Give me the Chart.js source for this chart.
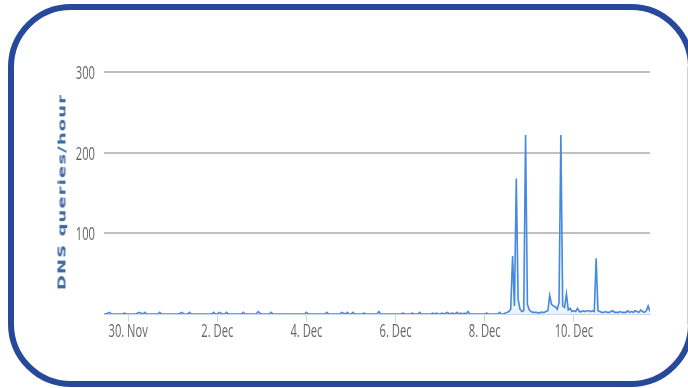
<!DOCTYPE html>
<html><head><meta charset="utf-8">
<script src="https://cdn.jsdelivr.net/npm/chart.js@4.4.1/dist/chart.umd.min.js"></script>
<style>
html,body{margin:0;padding:0;background:#fff;overflow:hidden;width:688px;height:388px}
#frame{position:absolute;left:8px;top:4px;width:686px;height:383px;box-sizing:border-box;border:6px solid #27499b;border-radius:63px;}
#edge{position:absolute;left:687px;top:67px;width:1px;height:257px;background:#d0d0d0}
#wrap{position:absolute;left:0;top:0;width:688px;height:388px}
#ytitle{position:absolute;left:61px;top:192px;transform:translate(-50%,-50%) scaleX(0.62) rotate(-90deg);font:bold 18px 'DejaVu Sans',sans-serif;letter-spacing:1.1px;color:#3d67a5;white-space:nowrap}
</style></head>
<body>
<div id="frame"></div>
<div id="edge"></div>
<div id="wrap"><canvas id="c" width="688" height="388"></canvas></div>
<div id="ytitle">DNS queries/hour</div>
<script>
// hourly DNS query counts, starting 29 Nov 11:00
const hourValues = [
  0,0,1,2,0,0,0,0,0,0,0,1,0,0,0,0,0,0,1,2,1,0,2,0,
  0,0,0,0,0,0,2,0,0,0,0,0,0,0,0,0,0,1,2,0,0,0,2,0,
  0,0,0,0,0,0,0,0,0,0,0,2,0,0,2,1,0,0,2,0,0,0,0,0,
  0,0,0,2,0,0,0,0,0,0,0,3,1,0,0,0,0,0,2,0,0,0,0,0,
  0,0,0,0,0,0,0,0,0,0,0,0,0,2,0,0,0,0,0,0,0,0,0,0,
  2,0,0,0,0,0,0,0,2,1,0,2,0,0,2,0,0,0,0,0,1,0,0,0,
  0,0,0,0,3,0,0,0,0,0,0,0,0,0,0,0,0,1,0,0,0,0,1,0,
  0,0,2,0,0,0,0,0,0,1,0,1,0,0,1,0,1,2,0,1,1,0,2,0,
  1,0,1,0,3,0,0,0,0,0,0,0,0,0,1,0,0,0,0,0,0,2,0,0,
  1,2,3,6,72,10,168,18,6,3,4,222,12,5,3,2,2,2,1,2,2,2,3,4,
  23,12,10,9,6,14,222,10,8,25,5,7,3,4,3,7,3,3,4,3,4,4,3,4,
  3,69,4,3,2,2,3,2,2,3,4,2,2,2,3,2,2,2,4,2,3,2,4,3,
  2,5,3,2,4,10,3
];
const tickHours = [13, 61, 109, 157, 205, 253];
const tickLabels = ['30. Nov', '2. Dec', '4. Dec', '6. Dec', '8. Dec', '10. Dec'];
const yTicks = [100, 200, 300];

// tick labels drawn horizontally squeezed, like the reference
const squeezedLabels = {
  id: 'squeezedLabels',
  afterDraw(chart) {
    const ctx = chart.ctx, xs = chart.scales.x, ys = chart.scales.y;
    ctx.save();
    ctx.fillStyle = '#666';
    ctx.font = "18px 'Open Sans', sans-serif";
    ctx.textBaseline = 'middle';
    tickHours.forEach((h, i) => {
      ctx.save();
      ctx.translate(xs.getPixelForValue(h), xs.top + 18);
      ctx.scale(0.62, 1);
      ctx.textAlign = 'center';
      ctx.fillText(tickLabels[i], 0, 0);
      ctx.restore();
    });
    yTicks.forEach(v => {
      ctx.save();
      ctx.translate(ys.right - 9, ys.getPixelForValue(v) + 2);
      ctx.scale(0.62, 1);
      ctx.textAlign = 'right';
      ctx.fillText(String(v), 0, 0);
      ctx.restore();
    });
    ctx.restore();
  }
};

new Chart(document.getElementById('c'), {
  type: 'line',
  data: {
    datasets: [{
      data: hourValues.map((v, i) => ({x: i, y: v})),
      borderColor: '#4589e0',
      borderWidth: 1.6,
      backgroundColor: 'rgba(124,181,236,0.15)',
      fill: 'origin',
      pointRadius: 0,
      tension: 0
    }]
  },
  plugins: [squeezedLabels],
  options: {
    responsive: false,
    devicePixelRatio: 1,
    animation: false,
    layout: {padding: {left: 0, right: 38, top: 72, bottom: 0}},
    plugins: {legend: {display: false}, tooltip: {enabled: false}},
    scales: {
      x: {
        type: 'linear', min: 0, max: 294,
        afterBuildTicks: s => { s.ticks = tickHours.map(v => ({value: v})); },
        afterFit: s => { s.height = 74; },
        ticks: {display: false},
        grid: {drawOnChartArea: false, drawTicks: true, tickLength: 8, color: '#ccd6eb'},
        border: {display: true, color: '#ccd6eb'}
      },
      y: {
        min: 0, max: 300,
        afterBuildTicks: s => { s.ticks = [0].concat(yTicks).map(v => ({value: v})); },
        afterFit: s => { s.width = 104; },
        ticks: {display: false},
        grid: {drawTicks: false, lineWidth: 2, color: c => c.tick && c.tick.value === 0 ? 'rgba(0,0,0,0)' : '#c0c0c0'},
        border: {display: false}
      }
    }
  }
});
</script>
</body></html>
